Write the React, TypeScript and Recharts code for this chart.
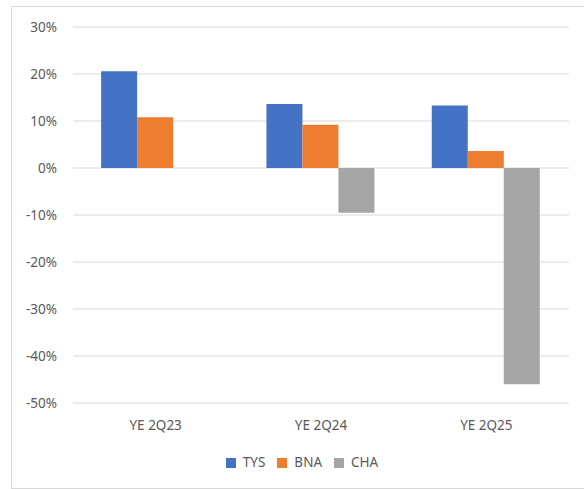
import { BarChart, Bar, XAxis, YAxis, CartesianGrid, Legend } from 'recharts';

const categories = ['YE 2Q23', 'YE 2Q24', 'YE 2Q25'];
const seriesNames = ['TYS', 'BNA', 'CHA'];
const tys = [20.6, 13.6, 13.3];
const bna = [10.8, 9.2, 3.6];
const cha = [0, -9.5, -46.0];
const yTicks = [-50, -40, -30, -20, -10, 0, 10, 20, 30];

const data = categories.map((name, i) => ({ name, TYS: tys[i], BNA: bna[i], CHA: cha[i] }));

const font = '"Noto Sans", sans-serif';
const textColor = '#595959';

export default function App() {
  return (
    <div style={{ position: 'absolute', left: 0, top: 0, width: 584, height: 489, overflow: 'hidden', background: '#fff', fontFamily: font }}>
      <div style={{ position: 'absolute', left: 11, top: 6, width: 600, height: 481, border: '1px solid #d9d9d9' }} />
      <div style={{ position: 'absolute', left: 0, top: 0 }}>
        <BarChart
          width={584}
          height={489}
          data={data}
          margin={{ top: 27, right: 15, left: 0, bottom: 56 }}
          barCategoryGap="17%"
          barGap={0}
        >
          <CartesianGrid vertical={false} stroke="#d9d9d9" strokeWidth={1} />
          <XAxis
            dataKey="name"
            axisLine={false}
            tickLine={false}
            height={30}
            tickMargin={11}
            tick={{ fill: textColor, fontSize: 13.5, fontFamily: font }}
          />
          <YAxis
            width={73}
            axisLine={false}
            tickLine={false}
            domain={[-50, 30]}
            ticks={yTicks}
            interval={0}
            tickMargin={10}
            tickFormatter={(v: number) => `${v}%`}
            tick={{ fill: textColor, fontSize: 13.5, fontFamily: font }}
          />
          <Legend
            verticalAlign="middle"
            align="center"
            iconType="square"
            iconSize={10}
            itemSorter={(item: any) => seriesNames.indexOf(item.value)}
            wrapperStyle={{ top: 453, left: 16, width: 584, fontSize: 13.5, fontFamily: font, color: textColor }}
            formatter={(value: string) => (
              <span style={{ color: textColor, paddingLeft: 3, paddingRight: 2 }}>{value}</span>
            )}
          />
          <Bar dataKey="TYS" fill="#4472C4" isAnimationActive={false} />
          <Bar dataKey="BNA" fill="#ED7D31" isAnimationActive={false} />
          <Bar dataKey="CHA" fill="#A5A5A5" isAnimationActive={false} />
        </BarChart>
      </div>
    </div>
  );
}
